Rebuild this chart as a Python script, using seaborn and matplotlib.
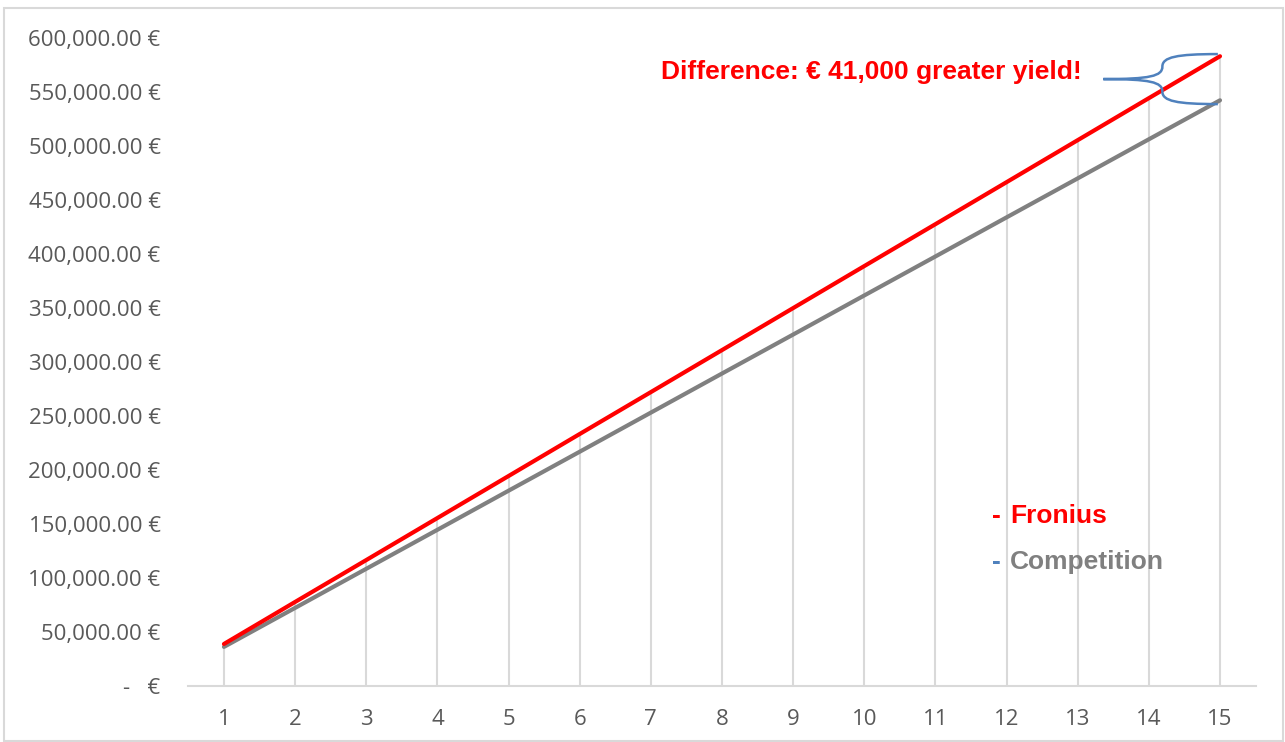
import numpy as np
import pandas as pd
import matplotlib.pyplot as plt
import seaborn as sns
from matplotlib.path import Path
from matplotlib.patches import PathPatch, Rectangle
from matplotlib.ticker import FuncFormatter

# Cumulative yield per year (EUR)
years = list(range(1, 16))
fronius = [38900, 77800, 116600, 155500, 194400, 233300, 272100, 311000,
           349900, 388800, 427600, 466500, 505400, 544300, 583100]
competition = [36200, 72300, 108500, 144600, 180800, 216900, 253100, 289300,
               325400, 361600, 397700, 433900, 470000, 506200, 542300]
y_ticks = list(range(0, 600001, 50000))
note = "Difference: € 41,000 greater yield!"

df = pd.DataFrame({
    "Year": years * 2,
    "Yield": competition + fronius,
    "Series": ["Competition"] * 15 + ["Fronius"] * 15,
})

sns.set_style("white")
plt.rcParams['font.family'] = ['Open Sans', 'DejaVu Sans']

fig = plt.figure(figsize=(12.85, 7.42), dpi=100)
ax = fig.add_axes([0.1466, 0.0755, 0.8305, 0.8733])

# drop lines from the top series down to the axis
ax.vlines(years, 0, fronius, color="#D9D9D9", lw=1.5, zorder=1)

sns.lineplot(data=df, x="Year", y="Yield", hue="Series",
             palette={"Competition": "#808080", "Fronius": "#FF0000"},
             linewidth=3, legend=False, ax=ax, zorder=3)

ax.set_xlim(0.5, 15.5)
ax.set_ylim(0, 600000)
ax.set_xticks(years)
ax.set_yticks(y_ticks)


def euro(v, pos):
    if v == 0:
        return "-   €"
    return f"{v:,.2f} €"


ax.yaxis.set_major_formatter(FuncFormatter(euro))
ax.tick_params(axis="both", length=0, labelsize=16, labelcolor="#595959")
ax.tick_params(axis="y", pad=20)
ax.tick_params(axis="x", pad=16.5)
ax.set_xlabel("")
ax.set_ylabel("")
for s in ["left", "right", "top"]:
    ax.spines[s].set_visible(False)
ax.spines["bottom"].set_color("#D9D9D9")
ax.spines["bottom"].set_linewidth(1.5)

bold_font = ["Liberation Sans", "DejaVu Sans"]

# annotation text
ax.text(13.06, 568500, note, color="#FF0000", fontsize=19, fontweight="bold",
        family=bold_font, ha="right", va="center")

# curly brace spanning the gap at the end
xt, xm, xe = 13.36, 14.19, 14.97
yt, yb = fronius[-1] + 2000, competition[-1] - 3500
yc = (yt + yb) / 2
dy = (yt - yb) / 2
verts = [(xe, yt),
         (xm + 0.2, yt), (xm, yc + 0.88 * dy), (xm, yc + 0.5 * dy),
         (xm, yc + 0.12 * dy), (xm - 0.17, yc), (xt, yc),
         (xm - 0.17, yc), (xm, yc - 0.12 * dy), (xm, yc - 0.5 * dy),
         (xm, yc - 0.88 * dy), (xm + 0.2, yb), (xe, yb)]
codes = [Path.MOVETO] + [Path.CURVE4] * 12
ax.add_patch(PathPatch(Path(verts, codes), fill=False, edgecolor="#4F81BD",
                       lw=1.8, zorder=4))

# hand-made legend
ax.text(11.79, 157400, "-", color="#FF0000", fontsize=19, fontweight="bold",
        family=bold_font, ha="left", va="center")
ax.text(12.05, 157400, "Fronius", color="#FF0000", fontsize=19, fontweight="bold",
        family=bold_font, ha="left", va="center")
ax.text(11.79, 114800, "-", color="#4F81BD", fontsize=19, fontweight="bold",
        family=bold_font, ha="left", va="center")
ax.text(12.05, 114800, "Competition", color="#808080", fontsize=19, fontweight="bold",
        family=bold_font, ha="left", va="center")

# light frame round the chart area
fig.patches.append(Rectangle((4 / 1285, 0.002), 1279 / 1285, 0.987,
                             transform=fig.transFigure, fill=False,
                             edgecolor="#D9D9D9", lw=1.5))

fig.savefig("out.png", dpi=100)
